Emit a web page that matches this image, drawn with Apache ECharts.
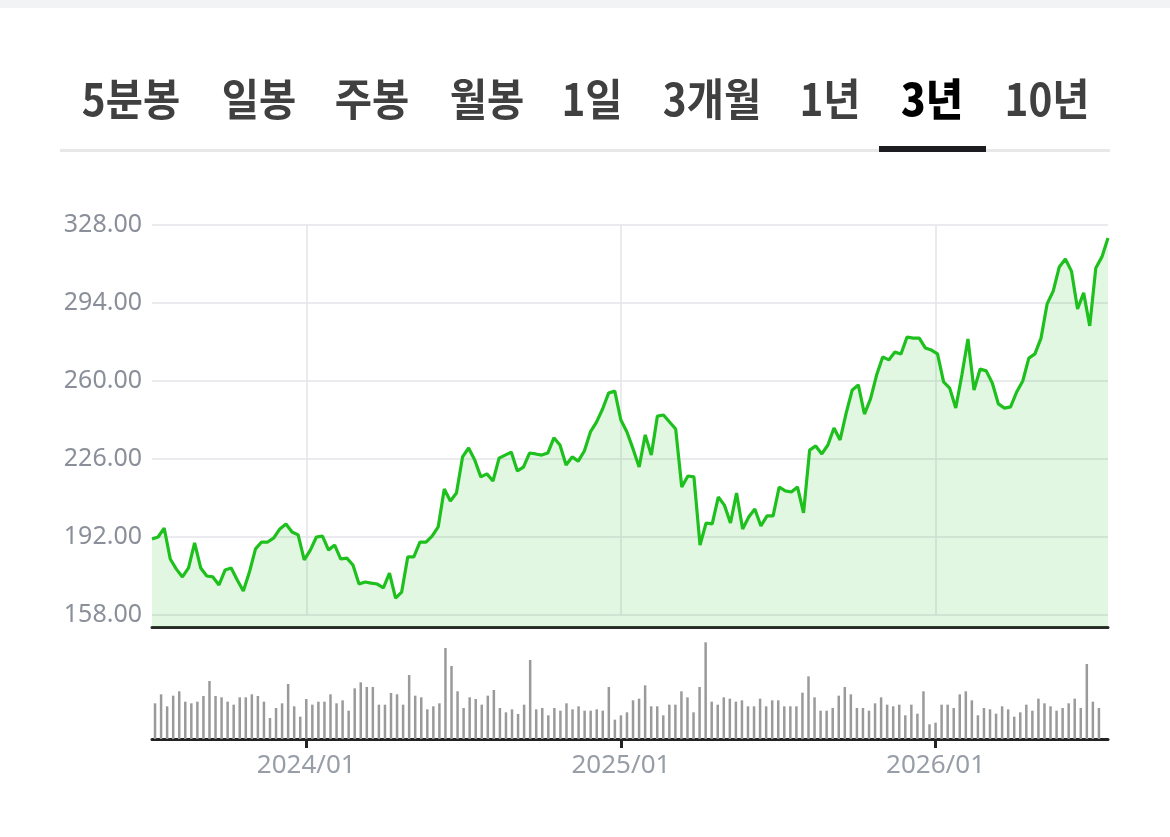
<!DOCTYPE html>
<html>
<head>
<meta charset="utf-8">
<script src="https://cdn.jsdelivr.net/npm/echarts@6/dist/echarts.min.js"></script>
<style>
    html, body { margin: 0; padding: 0; background: #fff; }
    #wrap { position: relative; width: 1170px; height: 837px; overflow: hidden; }
    #topbar { position: absolute; left: 0; top: 0; width: 1170px; height: 8px; background: #f2f3f5; }
    #chart { position: absolute; left: 0; top: 0; width: 1170px; height: 837px; }
    .tab {
        position: absolute; top: 70px; height: 54px; line-height: 54px;
        font-family: "Noto Sans CJK KR", sans-serif; font-size: 44px; font-weight: 700;
        color: #404040; white-space: nowrap;
        transform: translateX(-50%) scaleX(0.92);
    }
    .tab.on { color: #000; font-weight: 900; }
    #divider { position: absolute; left: 60px; top: 149px; width: 1050px; height: 3px; background: #e8e8e8; }
    #underline { position: absolute; left: 879px; top: 146px; width: 107px; height: 6px; background: #1d1d21; }
</style>
</head>
<body>
<div id="wrap">
    <div id="chart"></div>
    <div id="topbar"></div>
    <div id="tabs"></div>
    <div id="divider"></div>
    <div id="underline"></div>
</div>
<script>
    // 기간 탭
    const tabNames = ['5분봉', '일봉', '주봉', '월봉', '1일', '3개월', '1년', '3년', '10년']
    const tabCenters = [131, 259, 372, 487, 592, 712, 830, 932, 1047]
    const activeTab = '3년'

    // y축 눈금
    const priceTicks = [158, 192, 226, 260, 294, 328]

    // 주간 종가 (2023/07 ~ 2026/07)
    const prices = [
        191.1, 192.0, 195.9, 182.4, 178.0, 174.6, 178.5, 189.4, 178.5, 175.0,
        174.6, 171.1, 177.6, 178.5, 173.3, 168.5, 176.7, 186.8, 189.8, 189.8,
        191.6, 195.5, 197.7, 194.2, 192.9, 182.0, 186.3, 192.0, 192.4, 186.3,
        188.5, 182.4, 182.8, 179.8, 171.5, 172.4, 171.9, 171.5, 169.8, 176.3,
        165.4, 168.0, 183.3, 183.3, 189.8, 189.8, 192.4, 196.4, 212.9, 207.7,
        211.2, 226.9, 230.8, 225.6, 218.2, 219.5, 216.4, 226.4, 227.7, 229.0,
        220.8, 222.5, 228.6, 228.2, 227.7, 228.6, 235.2, 232.1, 223.4, 226.9,
        225.1, 229.5, 237.8, 242.1, 247.8, 254.8, 255.6, 243.0, 237.8, 230.4,
        222.5, 236.5, 227.7, 244.7, 245.2, 242.1, 239.1, 213.8, 218.6, 218.2,
        188.5, 198.1, 197.7, 209.4, 205.9, 198.1, 211.2, 195.5, 200.7, 204.2,
        196.8, 201.2, 201.2, 213.8, 212.1, 211.6, 213.8, 202.5, 229.9, 231.7,
        228.2, 232.1, 239.5, 234.3, 246.0, 256.1, 258.3, 245.6, 252.2, 262.6,
        270.5, 269.2, 272.6, 271.8, 279.2, 278.7, 278.7, 274.4, 273.5, 271.8,
        259.6, 256.9, 248.2, 262.6, 278.3, 256.1, 265.2, 264.4, 259.1, 250.0,
        248.2, 248.7, 255.2, 260.0, 270.0, 271.8, 278.7, 293.6, 299.2, 309.7,
        313.2, 307.9, 291.4, 298.4, 284.0, 309.3, 314.1, 322.3
    ]

    // 주간 거래량 (상대값)
    const volumes = [
        107, 134, 98, 130, 143, 112, 107, 112, 129, 174,
        129, 125, 112, 103, 125, 125, 134, 129, 112, 63,
        93, 107, 165, 98, 67, 120, 103, 112, 112, 134,
        107, 116, 85, 152, 170, 156, 156, 103, 103, 138,
        134, 103, 192, 130, 125, 89, 98, 107, 273, 219,
        143, 93, 125, 120, 103, 130, 147, 93, 80, 89,
        75, 103, 237, 89, 93, 71, 93, 85, 107, 89,
        98, 85, 85, 89, 85, 156, 58, 71, 80, 116,
        121, 161, 98, 98, 71, 103, 103, 143, 125, 80,
        156, 290, 112, 103, 125, 121, 112, 116, 98, 98,
        121, 98, 116, 116, 98, 98, 98, 139, 188, 125,
        85, 85, 93, 130, 156, 134, 93, 93, 85, 107,
        125, 103, 98, 103, 71, 103, 76, 143, 44, 49,
        103, 103, 93, 134, 143, 116, 71, 93, 89, 76,
        98, 89, 67, 80, 103, 85, 121, 107, 98, 85,
        93, 107, 121, 93, 225, 112, 93, null
    ]

    // 주간 날짜 (카테고리)
    const dates = []
    const start = new Date(Date.UTC(2023, 6, 14))
    for (let i = 0; i < prices.length; i++) {
        const d = new Date(start.getTime() + i * 7 * 86400000)
        dates.push(d.toISOString().slice(0, 10))
    }
    // 1월 첫 주에만 라벨/눈금
    const isYearStart = (index, value) => {
        const v = value || dates[index]
        return v.slice(5, 7) === '01' && Number(v.slice(8, 10)) <= 7
    }

    // 탭 그리기
    const tabsEl = document.getElementById('tabs')
    tabNames.forEach((name, i) => {
        const el = document.createElement('div')
        el.className = 'tab' + (name === activeTab ? ' on' : '')
        el.style.left = tabCenters[i] + 'px'
        el.textContent = name
        tabsEl.appendChild(el)
    })

    const gridLeft = 152
    const gridWidth = 956
    const priceTop = 225
    const labelHeight = 390
    const priceHeight = 402
    // 가격축 하단은 158 아래로 조금 더 내려감
    const priceMin = priceTicks[0] - (priceHeight - labelHeight) * (priceTicks[priceTicks.length - 1] - priceTicks[0]) / labelHeight

    var myChart = echarts.init(document.getElementById('chart'))
    var option = {
        animation: false,
        grid: [
            { left: gridLeft, top: priceTop, width: gridWidth, height: labelHeight },
            { left: gridLeft, top: priceTop, width: gridWidth, height: priceHeight },
            { left: gridLeft, top: 630, width: gridWidth, height: 109 }
        ],
        xAxis: [
            {
                gridIndex: 0, type: 'category', data: dates, boundaryGap: true,
                axisLine: { show: false }, axisTick: { show: false }, axisLabel: { show: false },
                splitLine: {
                    show: true, interval: isYearStart, alignWithLabel: true,
                    lineStyle: { color: '#e4e5ea', width: 1.5 }
                }
            },
            {
                gridIndex: 1, type: 'category', data: dates, boundaryGap: false,
                axisLine: { show: true, lineStyle: { color: '#2a2a2a', width: 3 } },
                axisTick: { show: false }, axisLabel: { show: false }, splitLine: { show: false }
            },
            {
                gridIndex: 2, type: 'category', data: dates, boundaryGap: true,
                axisLine: { show: true, lineStyle: { color: '#222', width: 3 } },
                axisTick: {
                    show: true, interval: isYearStart, alignWithLabel: true, length: 9,
                    lineStyle: { color: '#222', width: 3 }
                },
                axisLabel: {
                    show: true, interval: isYearStart, margin: 14,
                    color: '#989ea7', fontSize: 26, fontFamily: 'Noto Sans',
                    formatter: (v) => v.slice(0, 4) + '/' + v.slice(5, 7)
                },
                splitLine: { show: false }
            }
        ],
        yAxis: [
            {
                gridIndex: 0, type: 'value',
                min: priceTicks[0], max: priceTicks[priceTicks.length - 1], interval: priceTicks[1] - priceTicks[0],
                axisLine: { show: false }, axisTick: { show: false },
                axisLabel: {
                    margin: 10, color: '#8a8f99', fontSize: 25, fontFamily: 'Noto Sans',
                    formatter: (v) => v.toFixed(2)
                },
                splitLine: { show: true, lineStyle: { color: '#e4e5ea', width: 1.5 } }
            },
            {
                gridIndex: 1, type: 'value', min: priceMin, max: priceTicks[priceTicks.length - 1],
                show: false, splitLine: { show: false }
            },
            {
                gridIndex: 2, type: 'value', min: 0, max: 327,
                show: false, splitLine: { show: false }
            }
        ],
        series: [
            {
                name: '종가',
                type: 'line',
                xAxisIndex: 1, yAxisIndex: 1,
                data: prices,
                showSymbol: false,
                lineStyle: { color: '#1ec01e', width: 3.2 },
                itemStyle: { color: '#1ec01e' },
                areaStyle: { color: 'rgba(40, 200, 40, 0.2)' }
            },
            {
                name: '거래량',
                type: 'bar',
                xAxisIndex: 2, yAxisIndex: 2,
                data: volumes,
                barWidth: 2.5,
                itemStyle: { color: '#9a9a9a' }
            }
        ]
    }
    myChart.setOption(option)
</script>
</body>
</html>
